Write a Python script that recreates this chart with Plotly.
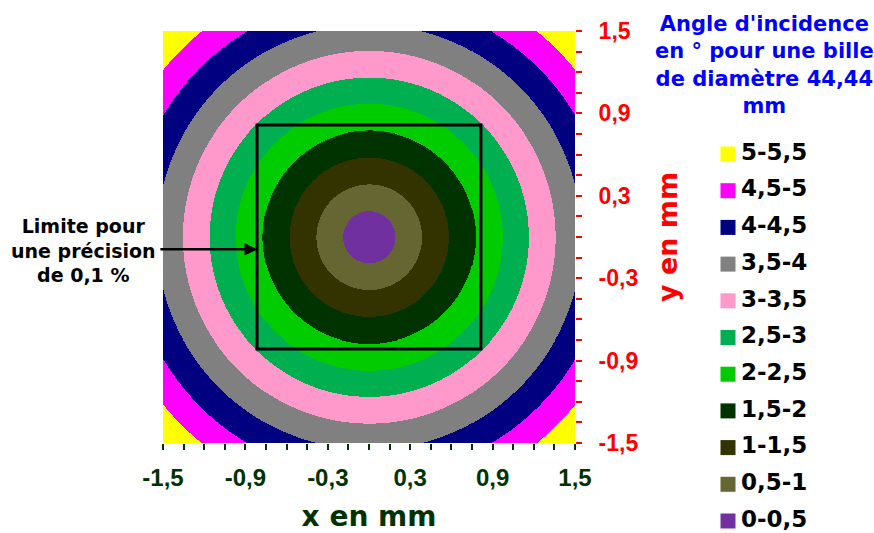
import numpy as np
import plotly.graph_objects as go

# ---- data ----
band_labels = ["0-0,5", "0,5-1", "1-1,5", "1,5-2", "2-2,5", "2,5-3",
               "3-3,5", "3,5-4", "4-4,5", "4,5-5", "5-5,5"]
band_colors = ["#7030A0", "#666633", "#333300", "#003300", "#00CC00", "#00B050",
               "#FF99CC", "#808080", "#000080", "#FF00FF", "#FFFF00"]
# outer radius (mm) of each band
band_outer_radius = [0.19, 0.385, 0.58, 0.775, 0.97, 1.16, 1.355, 1.545, 1.74, 1.93]
axis_min, axis_max = -1.5, 1.5
tick_values = [-1.5, -0.9, -0.3, 0.3, 0.9, 1.5]
tick_text = ["-1,5", "-0,9", "-0,3", "0,3", "0,9", "1,5"]
limit_half_side = 0.815   # square "Limite pour une précision de 0,1 %"
arrow_y = -0.09

# ---- grid of band index ----
n = 824
xs = np.linspace(axis_min, axis_max, n)
ys = np.linspace(axis_min, axis_max, n)
X, Y = np.meshgrid(xs, ys)
R = np.sqrt(X**2 + Y**2)
Z = np.digitize(R, band_outer_radius)

nb = len(band_colors)
colorscale = []
for i, c in enumerate(band_colors):
    colorscale.append([i / nb, c])
    colorscale.append([(i + 1) / nb, c])

W, H = 874, 533
fig = go.Figure()
fig.add_trace(go.Heatmap(x=xs, y=ys, z=Z, zmin=-0.5, zmax=nb - 0.5,
                         colorscale=colorscale, showscale=False,
                         hoverinfo="skip", zsmooth=False, xaxis="x", yaxis="y"))

# legend drawn as a key (top: 5-5,5 ... bottom: 0-0,5)
order = list(range(nb - 1, -1, -1))
key_rows = list(range(nb))
fig.add_trace(go.Scatter(x=[728] * nb, y=key_rows, mode="markers",
                         marker=dict(symbol="square", size=15,
                                     color=[band_colors[i] for i in order],
                                     line=dict(width=0)),
                         xaxis="x3", yaxis="y3", hoverinfo="skip", showlegend=False))
fig.add_trace(go.Scatter(x=[741] * nb, y=key_rows, mode="text",
                         text=[band_labels[i] for i in order],
                         textposition="middle right",
                         textfont=dict(family="DejaVu Sans", size=23, color="black",
                                       weight="bold"),
                         xaxis="x3", yaxis="y3", hoverinfo="skip", showlegend=False))

tick_font = "Arial, Liberation Sans, sans-serif"
title_font = "DejaVu Sans, sans-serif"
green = "#003300"
red = "#FF0000"

row0_px, row_step_px = 154, 36.7

fig.update_layout(
    width=W, height=H, autosize=False,
    margin=dict(l=0, r=0, t=0, b=0, autoexpand=False),
    paper_bgcolor="white", plot_bgcolor="rgba(0,0,0,0)",
    showlegend=False,
    xaxis=dict(domain=[163 / W, 575 / W], range=[axis_min, axis_max], anchor="y",
               tickmode="array", tickvals=tick_values,
               ticktext=tick_text, ticks="outside", ticklen=6, tickwidth=2,
               tickcolor=green, ticklabelstandoff=7,
               tickfont=dict(family=tick_font, size=24, color=green, weight="bold"),
               minor=dict(tickmode="linear", tick0=-1.5, dtick=0.15, ticks="outside",
                          ticklen=6, tickwidth=2, tickcolor=green),
               showgrid=False, zeroline=False, showline=False,
               title=dict(text="x en mm", standoff=25,
                          font=dict(family=title_font, size=28, color=green,
                                    weight="bold"))),
    yaxis=dict(domain=[(H - 443) / H, (H - 31) / H], range=[axis_min, axis_max],
               anchor="x", side="right", tickmode="array",
               tickvals=tick_values, ticktext=tick_text, ticks="outside", ticklen=6,
               tickwidth=2, tickcolor=red, ticklabelstandoff=12,
               tickfont=dict(family=tick_font, size=23, color=red, weight="bold"),
               minor=dict(tickmode="linear", tick0=-1.5, dtick=0.15, ticks="outside",
                          ticklen=6, tickwidth=2, tickcolor=red),
               showgrid=False, zeroline=False, showline=False,
               title=dict(text="y en mm", standoff=20,
                          font=dict(family=title_font, size=27, color=red,
                                    weight="bold"))),
    yaxis2=dict(range=[axis_min, axis_max], overlaying="y", side="left", anchor="x",
                showline=True, linecolor="#808080", linewidth=1, ticks="outside",
                ticklen=3, tickcolor="#808080", dtick=0.19, tick0=-1.5,
                showticklabels=False, showgrid=False, zeroline=False),
    xaxis3=dict(domain=[0, 1], range=[0, W], anchor="y3", visible=False,
                fixedrange=True),
    yaxis3=dict(domain=[0, 1], anchor="x3", visible=False, fixedrange=True,
                range=[(H - row0_px) / row_step_px, -row0_px / row_step_px]),
)

fig.add_shape(type="rect", xref="x", yref="y",
              x0=-limit_half_side, x1=limit_half_side,
              y0=-limit_half_side, y1=limit_half_side,
              line=dict(color="black", width=3), fillcolor="rgba(0,0,0,0)")

fig.add_annotation(x=-limit_half_side, y=arrow_y, xref="x", yref="y",
                   ax=-1.53, ay=arrow_y, axref="x", ayref="y",
                   text="", showarrow=True, arrowhead=2, arrowsize=1,
                   arrowwidth=2.5, arrowcolor="black")

fig.add_annotation(x=83 / W, y=(H - 250) / H, xref="paper", yref="paper",
                   xanchor="center", yanchor="middle", align="center",
                   text="Limite pour<br>une précision<br>de 0,1 %", showarrow=False,
                   font=dict(family=title_font, size=19, color="black", weight="bold"))

fig.add_annotation(x=764 / W, y=(H - 10) / H, xref="paper", yref="paper",
                   xanchor="center", yanchor="top", align="center",
                   text="Angle d'incidence<br>en ° pour une bille<br>de diamètre 44,44<br>mm",
                   showarrow=False,
                   font=dict(family=title_font, size=21, color="#0000FF", weight="bold"))

fig.write_html("out.html", config={"displayModeBar": False},
               post_script="document.body.style.margin='0px';"
                           "document.body.style.overflow='hidden';")
